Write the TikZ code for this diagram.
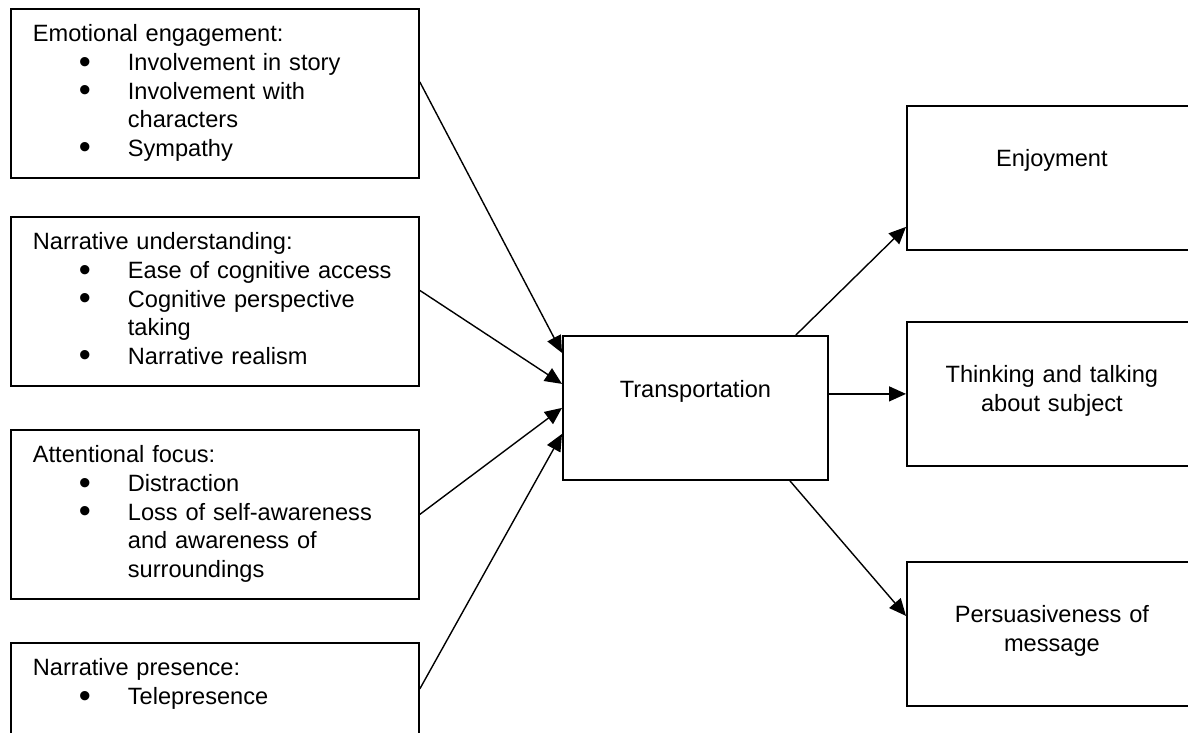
\documentclass[tikz,border=0pt]{standalone}
\usepackage{fontspec}
\setmainfont{Liberation Sans}
\usetikzlibrary{arrows.meta}

\newcommand{\bul}[1]{\hspace*{23pt}\makebox[24.5pt][l]{\smash{\raisebox{-1.3pt}{\scalebox{1.45}{\textbullet}}}}\mbox{#1}}
\newcommand{\cnt}[1]{\hspace*{47.5pt}\mbox{#1}}

\begin{document}
\begin{tikzpicture}[x=0.5pt, y=-0.5pt,
        font=\fontsize{11.8}{14.3}\selectfont,
        factor/.style={
            rectangle,
            draw=black, line width=0.9pt,
            anchor=north west,
            inner xsep=11pt, inner ysep=0pt,
            text width=182pt,
            align=left,
            text height=16.5pt,
            text depth=68pt},
        outcome/.style={
            rectangle,
            draw=black, line width=0.9pt,
            anchor=north west,
            inner xsep=5pt, inner ysep=0pt,
            text width=135pt,
            align=center,
            text height=30.5pt,
            text depth=41.5pt},
        arrow/.style={
            line width=0.7pt,
            -{Triangle[length=8.5pt,width=7.5pt]}}
        ]

        \useasboundingbox (0,0) rectangle (1188,733);

        \node (emot) [factor] at (10,8) {Emotional engagement:\\
            \bul{Involvement in story}\\
            \bul{Involvement with}\\
            \cnt{characters}\\
            \bul{Sympathy}};
        \node (narr) [factor] at (10,216) {Narrative understanding:\\
            \bul{Ease of cognitive access}\\
            \bul{Cognitive perspective}\\
            \cnt{taking}\\
            \bul{Narrative realism}};
        \node (atten) [factor] at (10,429) {Attentional focus:\\
            \bul{Distraction}\\
            \bul{Loss of self-awareness}\\
            \cnt{and awareness of}\\
            \cnt{surroundings}};
        \node (pres) [factor] at (10,642) {Narrative presence:\\
            \bul{Telepresence}};

        \node (trans) [outcome, text width=122.5pt, text height=31pt, text depth=41pt] at (562,335) {Transportation};

        \node (enjoy) [outcome] at (906,105) {Enjoyment};
        \node (think) [outcome] at (906,321) {Thinking and talking\\about subject};
        \node (persu) [outcome] at (906,561) {Persuasiveness of\\message};

        \draw [arrow] ([yshift=5.75pt]emot.east) -- ([yshift=27.5pt]trans.west);
        \draw [arrow] ([yshift=5.5pt]narr.east) -- ([yshift=12pt]trans.west);
        \draw [arrow] (atten.east) -- (trans.west);
        \draw [arrow] ([yshift=19.25pt]pres.east) -- ([yshift=-13pt]trans.west);
        \draw [arrow] ([xshift=50.25pt]trans.north) -- ([yshift=-24.5pt]enjoy.west);
        \draw [arrow] (think.west -| trans.east) -- (think.west);
        \draw [arrow] ([xshift=47.25pt]trans.south) -- ([yshift=9pt]persu.west);

\end{tikzpicture}
\end{document}
